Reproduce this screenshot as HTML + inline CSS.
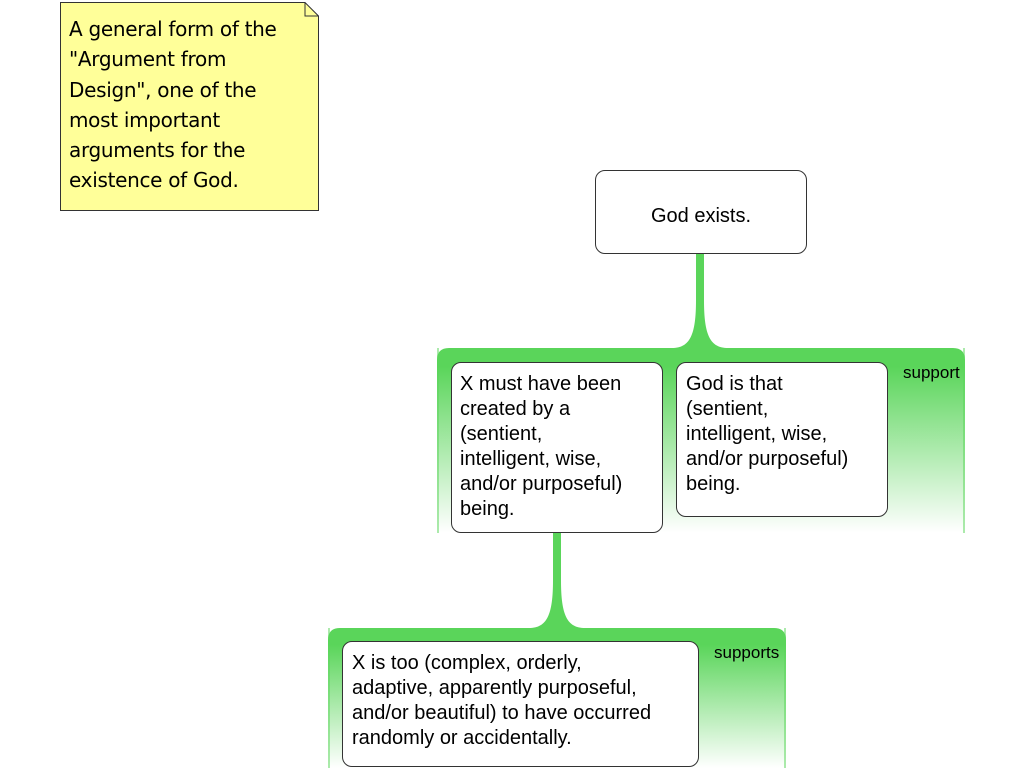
<!DOCTYPE html>
<html><head><meta charset="utf-8"><style>
body{margin:0;width:1024px;height:768px;background:#fff;position:relative;overflow:hidden;font-family:"Liberation Sans",sans-serif;}
.box{position:absolute;background:#fff;border:1px solid #333;border-radius:10px;box-sizing:border-box;font-size:20px;line-height:25px;color:#000;}
.lbl{position:absolute;font-size:17px;color:#000;}
.note{position:absolute;left:60px;top:2px;width:259px;height:209px;box-sizing:border-box;font-family:"Comic Sans MS","DejaVu Sans",sans-serif;font-size:20px;line-height:30.3px;padding:12px 0 0 9px;color:#000;letter-spacing:-0.3px;}
</style></head><body>
<svg width="1024" height="768" style="position:absolute;left:0;top:0">
<defs>
<linearGradient id="g1" x1="0" y1="348" x2="0" y2="533" gradientUnits="userSpaceOnUse">
<stop offset="0.1" stop-color="#5ad55a"/><stop offset="1" stop-color="#fff"/></linearGradient>
<linearGradient id="g2" x1="0" y1="628" x2="0" y2="768" gradientUnits="userSpaceOnUse">
<stop offset="0.12" stop-color="#5ad55a"/><stop offset="1" stop-color="#fff"/></linearGradient>
</defs>
<polygon points="60.5,2.5 305,2.5 318.5,16 318.5,210.5 60.5,210.5" fill="#ffff99" stroke="#333" stroke-width="1"/>
<polyline points="305,2.5 305,16 318.5,16" fill="none" stroke="#333" stroke-width="1"/>
<path d="M437,533 L437,360 Q437,348 449,348 L672,348 C690,348 696,335 696,300 L696,253 L704,253 L704,300 C704,335 710,348 728,348 L953,348 Q965,348 965,360 L965,533 Z" fill="url(#g1)"/>
<path d="M328,768 L328,640 Q328,628 340,628 L529,628 C547,628 553,615 553,580 L553,533 L561,533 L561,580 C561,615 567,628 585,628 L774,628 Q786,628 786,640 L786,768 Z" fill="url(#g2)"/>
<rect x="437" y="348" width="2" height="185" fill="#5ad55a" opacity="0.5"/>
<rect x="963" y="348" width="2" height="185" fill="#5ad55a" opacity="0.5"/>
<rect x="328" y="628" width="2" height="140" fill="#5ad55a" opacity="0.5"/>
<rect x="784" y="628" width="2" height="140" fill="#5ad55a" opacity="0.5"/>
</svg>
<div class="note">A general form of the<br>"Argument from<br>Design", one of the<br>most important<br>arguments for the<br>existence of God.</div>
<div class="box" style="left:595px;top:170px;width:212px;height:84px;text-align:center;line-height:90px;">God exists.</div>
<div class="box" style="left:451px;top:362px;width:212px;height:171px;padding:9px 0 0 8px;">X must have been<br>created by a<br>(sentient,<br>intelligent, wise,<br>and/or purposeful)<br>being.</div>
<div class="box" style="left:676px;top:362px;width:212px;height:155px;padding:9px 0 0 9px;">God is that<br>(sentient,<br>intelligent, wise,<br>and/or purposeful)<br>being.</div>
<div class="lbl" style="left:903px;top:363px;">support</div>
<div class="box" style="left:342px;top:641px;width:357px;height:126px;padding:9px 0 0 9px;">X is too (complex, orderly,<br>adaptive, apparently purposeful,<br>and/or beautiful) to have occurred<br>randomly or accidentally.</div>
<div class="lbl" style="left:714px;top:643px;">supports</div>
</body></html>
